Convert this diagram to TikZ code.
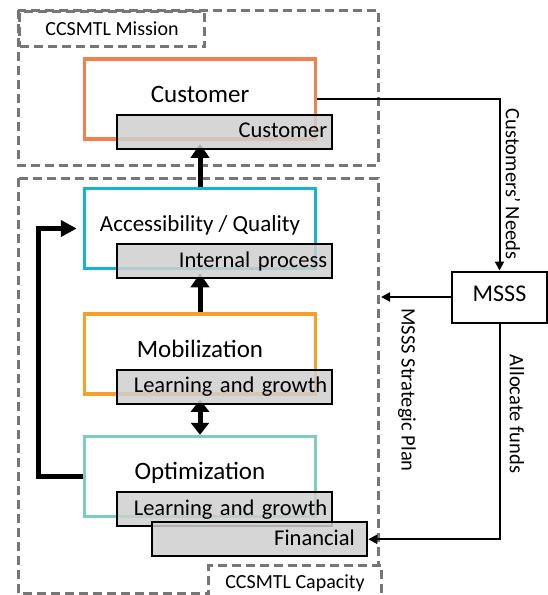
\documentclass[tikz,border=0pt]{standalone}
\usepackage{fontspec}
\setmainfont{Carlito}
\usetikzlibrary{arrows.meta, positioning, calc}

\definecolor{custorange}{HTML}{F27F4E}
\definecolor{acccyan}{HTML}{17B4D2}
\definecolor{mobamber}{HTML}{F6A02A}
\definecolor{optteal}{HTML}{7DCCBF}
\definecolor{dashgray}{HTML}{767676}
\definecolor{tabgray}{HTML}{CFCFCF}

\tikzset{
  mainbox/.style={draw, line width=3.5pt, fill=white, minimum width=231pt, minimum height=80pt, text height=18pt, text depth=12pt, font=\fontsize{25}{30}\selectfont},
  tabbox/.style={draw, line width=2pt, fill=tabgray, fill opacity=.85, text opacity=1, minimum width=215pt, minimum height=34pt, text width=205pt, align=right, text height=16pt, text depth=4pt, font=\fontsize{22.5}{27}\selectfont},
  dashbox/.style={draw=dashgray, line width=3pt, dash pattern=on 9pt off 5pt},
  uparrow/.style={line width=5pt, -{Triangle[width=18pt,length=14pt]}},
  biarrow/.style={line width=5pt, {Triangle[width=18pt,length=12pt]}-{Triangle[width=18pt,length=12pt]}},
  thinarrow/.style={line width=2pt, -{Triangle[width=9pt,length=9pt]}},
  sidelabel/.style={rotate=-90, font=\fontsize{20.5}{24}\selectfont},
}

\begin{document}
\begin{tikzpicture}[x=1pt, y=-1pt]
\useasboundingbox (0,0) rectangle (548,595);
% mission and capacity regions
\draw[dashbox] (18,10) rectangle (378,165);
\draw[dashbox] (18,178) rectangle (378,593);
\node[dashbox, fill=white, anchor=north west, minimum width=185pt, minimum height=35pt, font=\fontsize{20}{24}\selectfont] (missionlbl) at (18,10) {CCSMTL Mission};
\node[dashbox, fill=white, anchor=north west, minimum width=173pt, minimum height=36pt, font=\fontsize{20}{24}\selectfont] (capacitylbl) at (207,564) {CCSMTL Capacity};

% perspective boxes
\node[mainbox, draw=custorange] (cust) at (200,99) {Customer};
\node[mainbox, draw=acccyan, below=46pt of cust, font=\fontsize{23}{28}\selectfont] (acc) {Accessibility / Quality};
\node[mainbox, draw=mobamber, below=42pt of acc] (mob) {Mobilization};
\node[mainbox, draw=optteal, below=39pt of mob] (opt) {Optimization};

% arrows between perspectives
\coordinate (custin) at (acc.north |- cust.south);
\draw[uparrow] (acc.north) -- ([yshift=-3pt]custin);
\draw[uparrow] (mob.north) -- ([yshift=-3pt]acc.south);
\draw[biarrow] ([yshift=-4pt]mob.south) -- (opt.north);
\draw[line width=5pt, -{Triangle[width=16pt,length=16pt]}, shorten >=6pt] (opt.west) -- ++(-44pt,0) |- (acc.west);

% BSC tabs
\node[tabbox, anchor=south east] (custtab) at ([shift={(16pt,-9pt)}]cust.south east) {Customer};
\node[tabbox, anchor=south east] (acctab) at ([shift={(16pt,-9pt)}]acc.south east) {Internal process};
\node[tabbox, anchor=south east] (mobtab) at ([shift={(16pt,-9pt)}]mob.south east) {Learning and growth};
\node[tabbox, anchor=south east] (opttab) at ([shift={(16pt,-9pt)}]opt.south east) {Learning and growth};
\node[tabbox, text width=190pt, anchor=south east] (fintab) at ([shift={(35pt,-30pt)}]opttab.south east) {Financial};

% ministry
\node[draw, line width=2pt, minimum width=95pt, minimum height=51pt, text height=17pt, text depth=9pt, font=\fontsize{24}{28}\selectfont] (msss) at (499.5,297) {MSSS};
\coordinate (planend) at (381,297);
\draw[thinarrow] (cust.east) -| (msss.north);
\draw[thinarrow] (msss.west) -- (planend);
\draw[thinarrow] (msss.south) |- (fintab.east);

\node[sidelabel] (needslbl) at (513,184) {Customers’ Needs};
\node[sidelabel] (planlbl) at (407,390) {MSSS Strategic Plan};
\node[sidelabel] (fundslbl) at (517,414) {Allocate funds};
\end{tikzpicture}
\end{document}
